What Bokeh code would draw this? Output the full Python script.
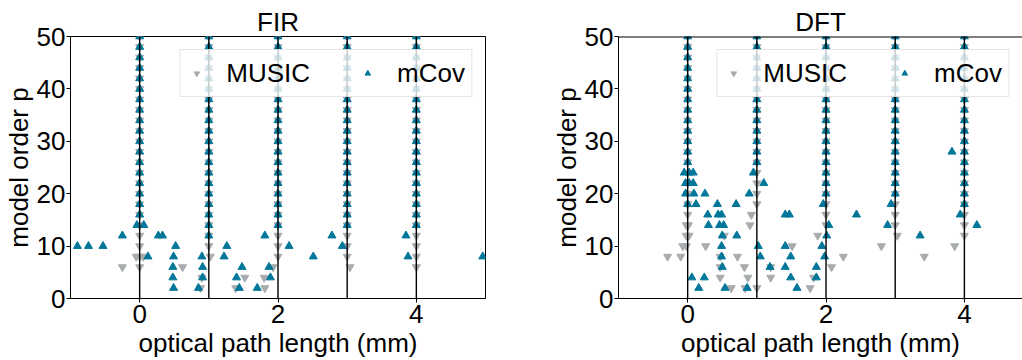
from bokeh.plotting import figure
from bokeh.layouts import row
from bokeh.models import Range1d, Legend, LegendItem, Span, FixedTicker
from bokeh.embed import file_html
from bokeh.resources import INLINE

# ---------------- data ----------------
p_orders = [2, 4, 6, 8, 10, 12, 14, 16, 18, 20, 22, 24, 26, 28, 30,
            32, 34, 36, 38, 40, 42, 44, 46, 48, 50]
peak_positions = [0, 1, 2, 3, 4]

# lowest model order at which each estimator locks on each true peak
fir_music_stack_min = [6, 10, 8, 8, 6]
fir_mcov_stack_min = [16, 12, 14, 14, 14]
dft_music_stack_min = [16, 18, 14, 14, 12]
dft_mcov_stack_min = [26, 26, 20, 20, 18]

# scattered (off-peak / spread) estimates
fir_music_x = [-0.05, 0.05, -0.25, 0.62, 0.88, 0.90, 1.02, 1.39, 1.52, 1.80, 1.81, 1.93, 3.04]
fir_music_p = [8, 8, 6, 6, 2, 4, 8, 2, 4, 4, 2, 6, 6]

fir_mcov_x = [-0.90, -0.74, -0.53, -0.25, -0.04, 0.06, 0.12, 0.27, 0.33, 0.52, 0.49, 0.48,
              0.48, 0.49, 0.85, 0.91, 0.91, 0.90, 1.22, 1.26, 1.48, 1.40, 1.44, 1.70,
              1.87, 1.89, 1.81, 2.16, 2.51, 2.78, 2.93, 3.85, 3.88, 4.96]
fir_mcov_p = [10, 10, 10, 12, 14, 14, 8, 12, 12, 10, 8, 6,
              4, 2, 2, 4, 6, 8, 8, 10, 6, 4, 2, 2,
              6, 4, 12, 10, 8, 12, 10, 12, 8, 8]

dft_music_x = [-0.02, 0.01, -0.02, 0.02, -0.07, -0.02, -0.29, -0.10, 0.26, 0.47, 0.47, 0.47,
               0.53, 0.63, 0.72, 0.82, 0.87, 0.83, 0.92, 0.90, 1.00, 1.20, 1.20, 1.51,
               1.77, 1.82, 1.88, 2.08, 2.25, 2.80, 3.03, 3.42, 3.86]
dft_music_p = [14, 14, 12, 12, 10, 10, 8, 8, 10, 8, 6, 4,
               12, 2, 8, 6, 4, 2, 16, 14, 2, 4, 6, 10,
               2, 4, 12, 6, 8, 10, 12, 8, 10]

dft_mcov_x = [-0.05, 0.02, 0.08, -0.03, 0.02, 0.08, -0.03, 0.09, 0.00, 0.12,
              0.06, 0.16, 0.24, 0.25, 0.29, 0.30, 0.43, 0.44, 0.49, 0.46, 0.52, 0.50,
              0.49, 0.49, 0.50, 0.54, 0.70, 0.71, 0.86, 0.89, 0.95, 1.10, 1.02, 1.05,
              1.19, 1.41, 1.41, 1.47, 1.41, 1.49, 1.58, 1.49, 1.86, 1.86, 1.94, 1.98,
              2.01, 2.04, 1.96, 2.44, 2.89, 2.94, 3.36, 3.82, 3.94, 4.18]
dft_mcov_p = [24, 24, 24, 22, 22, 22, 20, 20, 18, 18,
              4, 2, 4, 20, 16, 14, 18, 16, 16, 14, 14, 12,
              10, 8, 6, 2, 18, 12, 2, 20, 24, 22, 10, 8,
              6, 10, 16, 16, 6, 4, 2, 8, 4, 6, 10, 8,
              12, 14, 18, 16, 14, 18, 12, 28, 16, 14]

MUSIC_COLOR = "#a8acae"
MCOV_COLOR = "#00779a"
FONT = "Liberation Sans"
FS = "26px"


def collect(stack_min, extra_x, extra_p):
    xs, ps = [], []
    for pos, pmin in zip(peak_positions, stack_min):
        for p in p_orders:
            if p >= pmin:
                xs.append(pos)
                ps.append(p)
    return xs + list(extra_x), ps + list(extra_p)


def make_panel(title, x_end, music, mcov, left_border, right_border, full_outline):
    fw = int(round((x_end + 1) * 415 / 6))
    p = figure(frame_width=fw, frame_height=262,
               x_range=Range1d(-1, x_end), y_range=Range1d(0, 50),
               output_backend="svg", toolbar_location=None,
               min_border_left=left_border, min_border_right=right_border,
               min_border_top=36, min_border_bottom=62, title=title)
    p.background_fill_color = "white"
    p.border_fill_color = "white"
    p.xgrid.visible = False
    p.ygrid.visible = False
    if full_outline:
        p.outline_line_color = "black"
        p.outline_line_width = 1
    else:
        p.outline_line_color = None
        p.add_layout(Span(location=50, dimension="width", line_color="black", line_width=2.2))

    p.title.text_font = FONT
    p.title.text_font_size = FS
    p.title.text_font_style = "normal"
    p.title.text_color = "black"
    p.title.align = "center"
    p.title.standoff = 0

    p.xaxis.ticker = FixedTicker(ticks=[0, 2, 4])
    p.yaxis.ticker = FixedTicker(ticks=[0, 10, 20, 30, 40, 50])
    p.xaxis.axis_label = "optical path length (mm)"
    p.yaxis.axis_label = "model order p"
    for ax in (p.xaxis[0], p.yaxis[0]):
        ax.axis_label_text_font = FONT
        ax.axis_label_text_font_size = FS
        ax.axis_label_text_font_style = "normal"
        ax.axis_label_text_color = "black"
        ax.major_label_text_font = FONT
        ax.major_label_text_font_size = FS
        ax.major_label_text_color = "black"
        ax.major_tick_in = 0
        ax.major_tick_out = 4
        ax.major_tick_line_color = "black"
        ax.minor_tick_line_color = None
        ax.axis_line_color = "black"
    p.xaxis.major_label_standoff = 2
    p.xaxis.axis_label_standoff = 2
    p.yaxis.major_label_standoff = 1
    p.yaxis.axis_label_standoff = 0

    for pos in peak_positions:
        p.add_layout(Span(location=pos, dimension="height", line_color="black", line_width=1.4))

    mx, mp = music
    cx, cp = mcov
    r_music = p.scatter(x=mx, y=mp, marker="inverted_triangle", size=8,
                        fill_color=MUSIC_COLOR, line_color=MUSIC_COLOR)
    r_mcov = p.scatter(x=cx, y=cp, marker="triangle", size=8,
                       fill_color=MCOV_COLOR, line_color=MCOV_COLOR)

    legend = Legend(items=[LegendItem(label="MUSIC", renderers=[r_music]),
                           LegendItem(label="mCov", renderers=[r_mcov])],
                    orientation="horizontal", location="top_right")
    legend.margin = 13
    legend.padding = 6
    legend.spacing = 47
    legend.label_standoff = 20
    legend.glyph_width = 20
    legend.glyph_height = 14
    legend.label_height = 34
    legend.label_text_font = FONT
    legend.label_text_font_size = FS
    legend.label_text_color = "black"
    legend.border_line_color = "#cccccc"
    legend.background_fill_color = "white"
    legend.background_fill_alpha = 0.8
    p.add_layout(legend)
    return p


p1 = make_panel("FIR", 5,
                collect(fir_music_stack_min, fir_music_x, fir_music_p),
                collect(fir_mcov_stack_min, fir_mcov_x, fir_mcov_p),
                70, 55, True)
p2 = make_panel("DFT", 4.84,
                collect(dft_music_stack_min, dft_music_x, dft_music_p),
                collect(dft_mcov_stack_min, dft_mcov_x, dft_mcov_p),
                78, 0, False)

layout = row(p1, p2)
open("out.html", "w").write(file_html(layout, INLINE))
